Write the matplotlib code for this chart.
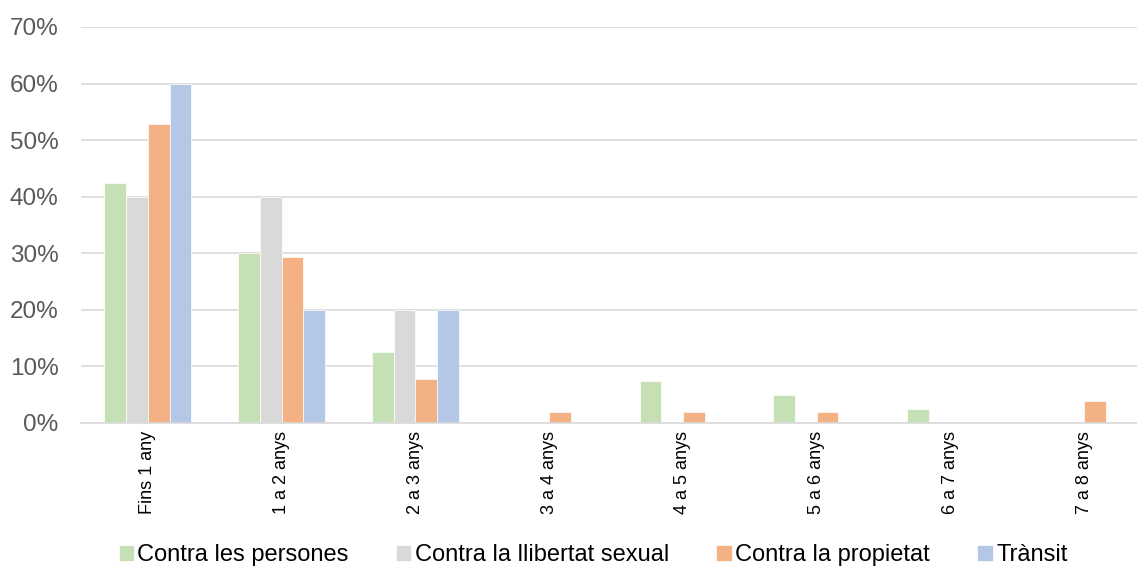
import numpy as np
import matplotlib.pyplot as plt
from matplotlib.ticker import PercentFormatter

categories = ['Fins 1 any', '1 a 2 anys', '2 a 3 anys', '3 a 4 anys',
              '4 a 5 anys', '5 a 6 anys', '6 a 7 anys', '7 a 8 anys']
series_names = ['Contra les persones', 'Contra la llibertat sexual',
                'Contra la propietat', 'Trànsit']
persones = [42.5, 30.0, 12.5, 0.0, 7.5, 5.0, 2.5, 0.0]
llibertat = [40.0, 40.0, 20.0, 0.0, 0.0, 0.0, 0.0, 0.0]
propietat = [52.9, 29.4, 7.8, 2.0, 2.0, 2.0, 0.0, 3.9]
transit = [60.0, 20.0, 20.0, 0.0, 0.0, 0.0, 0.0, 0.0]
colors = ['#C5E0B4', '#D9D9D9', '#F4B183', '#B4C7E7']

plt.rcParams['font.family'] = ['Liberation Sans', 'DejaVu Sans']

fig = plt.figure(figsize=(11.37, 5.68), dpi=100)
ax = fig.add_axes([0.0712, 0.2553, 0.9288, 0.6972])

x = np.arange(len(categories))
w = 0.162
all_series = [persones, llibertat, propietat, transit]
for i, (vals, name, c) in enumerate(zip(all_series, series_names, colors)):
    ax.bar(x + (i - 1.5) * w, vals, w, color=c, label=name,
           edgecolor='white', linewidth=0.5, zorder=2)

ax.set_ylim(0, 70)
ax.set_yticks(np.arange(0, 71, 10))
ax.yaxis.set_major_formatter(PercentFormatter(decimals=0))
ax.set_xlim(-0.5, 7.395)
ax.set_xticks(x)
ax.set_xticklabels(categories, rotation=90, fontsize=13, color='black')
ax.tick_params(axis='x', length=0, pad=6)
ax.tick_params(axis='y', length=0, pad=16, labelsize=17.5, labelcolor='#595959')
ax.grid(axis='y', color='#D9D9D9', linewidth=1.2, zorder=0)
for s in ['top', 'right', 'left']:
    ax.spines[s].set_visible(False)
ax.spines['bottom'].set_color('#D9D9D9')
ax.spines['bottom'].set_linewidth(1.2)

fig.legend(loc='center', bbox_to_anchor=(593 / 1137, 1 - 555 / 568), ncol=4,
           frameon=False, fontsize=17, handlelength=0.65, handleheight=0.65,
           handletextpad=0.15, columnspacing=2.0)

fig.savefig('out.png', dpi=100)
